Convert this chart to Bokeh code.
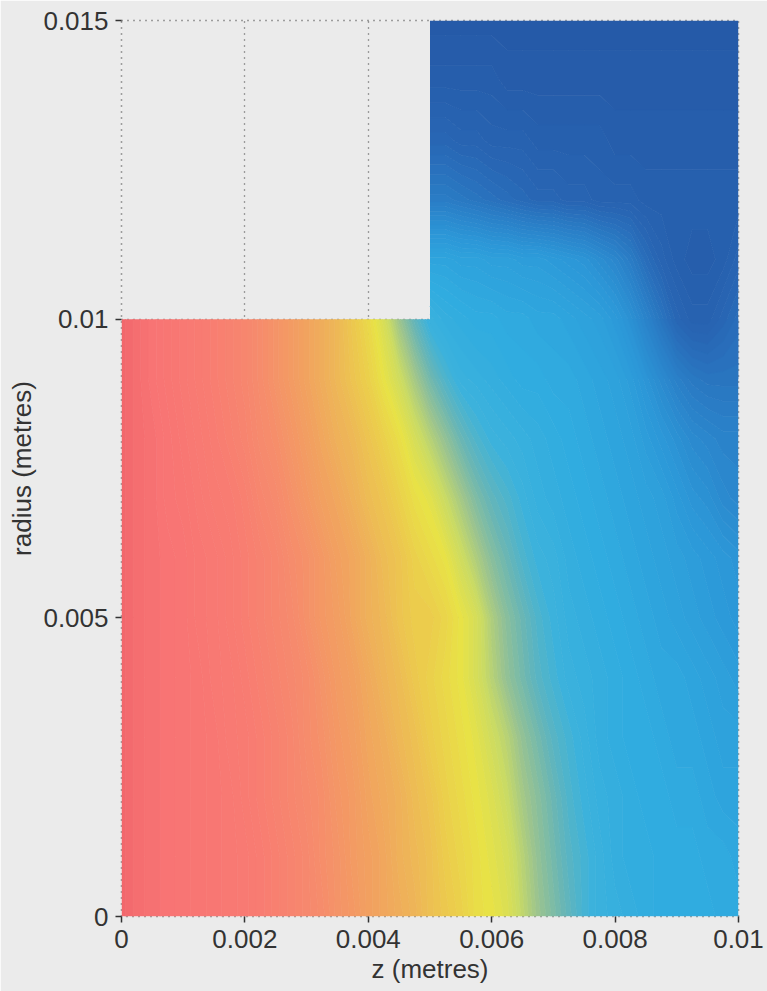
import numpy as np
from bokeh.plotting import figure
from bokeh.models import Range1d, FixedTicker
from bokeh.embed import file_html
from bokeh.resources import INLINE

# ---------------- data ----------------
x_ticks = [0, 0.002, 0.004, 0.006, 0.008, 0.01]
x_tick_labels = ["0", "0.002", "0.004", "0.006", "0.008", "0.01"]
y_ticks = [0, 0.005, 0.01, 0.015]
y_tick_labels = ["0", "0.005", "0.01", "0.015"]

# relative field level (0 = dark blue, 100 = red)
# lower block: nodes z = 0 .. 0.01 m every 0.00025 m, r = 0 .. 0.01 m every 0.001 m
z_nodes = [i * 0.00025 for i in range(41)]
r_lower = [j * 0.001 for j in range(11)]
lower_rows = [
    [99,97,96,95,94,93,92,91,90,88,86,84,82,80,77,75,72,70,68,66,63,61,59,56,55,53,49,45,42,39,36,34,33,32,31,30,30,30,30,29,29],
    [99,97,96,95,94,93,92,91,90,88,86,84,82,79,77,74,72,70,67,65,63,60,58,56,54,52,48,44,41,38,36,34,32,31,31,30,30,30,29,29,28],
    [99,97,96,95,94,93,92,91,89,87,85,83,81,79,76,74,71,69,67,64,62,59,57,55,53,50,46,43,40,37,35,33,32,31,30,30,29,29,28,27,27],
    [99,97,96,95,94,93,92,90,89,87,85,83,80,78,75,73,70,68,65,63,60,58,56,54,51,48,44,41,38,36,34,32,31,30,30,29,28,28,27,26,26],
    [99,97,96,95,94,93,91,90,88,86,84,82,80,77,74,72,69,66,64,61,59,57,55,52,48,44,41,38,36,34,33,32,31,30,29,28,28,27,26,25,24],
    [99,97,96,95,94,92,91,89,87,85,83,81,78,75,73,70,67,65,62,60,60,58,55,52,47,43,40,37,35,33,32,31,30,29,28,27,26,25,24,23,22],
    [99,97,96,95,94,92,91,89,87,85,83,80,78,75,72,70,67,64,62,59,57,55,51,47,43,40,37,35,34,32,31,30,29,28,27,26,25,24,23,22,21],
    [99,97,96,94,93,91,89,88,86,83,81,78,75,72,70,67,64,62,59,56,54,50,46,42,39,37,35,33,32,31,30,29,28,27,26,25,23,21,20,18,17],
    [99,97,96,94,92,90,88,86,84,81,79,76,73,70,67,65,62,59,56,52,48,44,40,37,35,34,33,32,31,30,29,28,27,26,24,22,20,18,17,16,16],
    [99,97,95,93,91,89,87,85,83,80,77,74,71,68,65,62,59,55,51,46,41,37,34,33,32,31,30,30,29,29,28,27,26,24,21,18,15,13,12,12,12],
    [99,97,95,93,91,89,87,85,83,80,77,74,71,68,65,61,57,52,45,39,34,32,31,30,30,29,29,28,28,27,26,25,23,20,16,12,8,6,6,8,10],
]
# upper block: nodes z = 0.005 .. 0.01 m every 0.00025 m, r = 0.011 .. 0.015 m every 0.001 m
z_upper = [0.005 + i * 0.00025 for i in range(21)]
r_upper = [0.011, 0.012, 0.013, 0.014, 0.015]
upper_rows = [
    [27,27,26,26,25,25,24,24,23,22,21,19,17,14,10,7,5,4,4,5,7],
    [14,14,13,12,11,10,9,8,8,7,7,6,6,6,5,5,5,5,5,5,5],
    [8,8,7,7,6,6,6,5,5,5,5,5,4,4,4,4,4,4,4,4,4],
    [4,4,4,4,4,3,3,3,3,3,3,3,3,3,3,3,3,3,3,3,3],
    [2,2,2,2,2,2,2,2,2,2,2,2,2,2,2,2,2,2,2,2,2],
]

# ---------------- style ----------------
stop_levels = [0, 8, 15, 22, 30, 35, 40, 45, 50, 55, 60, 66, 72, 80, 88, 95, 100]
stop_colors = ["#2456a4", "#2866b4", "#2a80c8", "#2c98d8", "#30ace0", "#3cb2dc",
               "#6ab6b4", "#9cc48e", "#cadb64", "#e8e246", "#eccc4c", "#eeb458",
               "#f2a060", "#f68c6c", "#f87c72", "#f87474", "#f0646a"]
_rgb = np.array([[int(c[k:k + 2], 16) for k in (1, 3, 5)] for c in stop_colors], dtype=float)


def level_color(v):
    rgb = [int(round(np.interp(v, stop_levels, _rgb[:, k]))) for k in range(3)]
    return "#%02x%02x%02x" % tuple(rgb)


levels = list(np.arange(-0.5, 101.0, 1.0))
band_colors = [level_color(0.5 * (a + b)) for a, b in zip(levels[:-1], levels[1:])]
line_colors = [level_color(v) for v in levels]

Z_low = np.array(lower_rows, dtype=float)
n_up = len(z_upper)
# the upper block is drawn from r = 0.009 so that it overlaps the lower block (no seam)
r_up_full = r_lower[-2:] + r_upper
Z_up = np.array([lower_rows[-2][-n_up:], lower_rows[-1][-n_up:]] + upper_rows, dtype=float)

BG = "#ebebeb"
FONT = "Liberation Sans"
TXT = "#333333"

p = figure(width=767, height=991, output_backend="svg", toolbar_location=None,
           x_range=Range1d(0, 0.01), y_range=Range1d(0, 0.015),
           min_border_left=121, min_border_right=29, min_border_top=20,
           min_border_bottom=75)
p.background_fill_color = BG
p.border_fill_color = BG
p.outline_line_color = "#4a4a4a"
p.outline_line_dash = "1 5"
p.outline_line_width = 1.5

p.contour(np.array(z_nodes), np.array(r_lower), Z_low, levels,
          fill_color=band_colors, line_color=line_colors, line_width=1.0)
p.contour(np.array(z_upper), np.array(r_up_full), Z_up, levels,
          fill_color=band_colors, line_color=line_colors, line_width=1.0)

p.xaxis.ticker = FixedTicker(ticks=x_ticks)
p.yaxis.ticker = FixedTicker(ticks=y_ticks)
p.xaxis.major_label_overrides = {t: l for t, l in zip(x_ticks, x_tick_labels)}
p.yaxis.major_label_overrides = {t: l for t, l in zip(y_ticks, y_tick_labels)}
p.xaxis.axis_label = "z (metres)"
p.yaxis.axis_label = "radius (metres)"

for ax in (p.xaxis[0], p.yaxis[0]):
    ax.axis_line_color = None
    ax.minor_tick_line_color = None
    ax.major_tick_line_color = TXT
    ax.major_tick_line_width = 1.5
    ax.major_tick_in = 0
    ax.major_tick_out = 6
    ax.major_label_standoff = 7
    ax.major_label_text_font = FONT
    ax.major_label_text_font_size = "26px"
    ax.major_label_text_color = TXT
    ax.axis_label_text_font = FONT
    ax.axis_label_text_font_size = "26px"
    ax.axis_label_text_font_style = "normal"
    ax.axis_label_text_color = TXT
    ax.axis_label_standoff = 3

for g in (p.xgrid[0], p.ygrid[0]):
    g.grid_line_color = "#4a4a4a"
    g.grid_line_width = 1.3
    g.grid_line_dash = "1 5"
    g.grid_line_alpha = 1.0

open("out.html", "w").write(file_html(p, INLINE))
